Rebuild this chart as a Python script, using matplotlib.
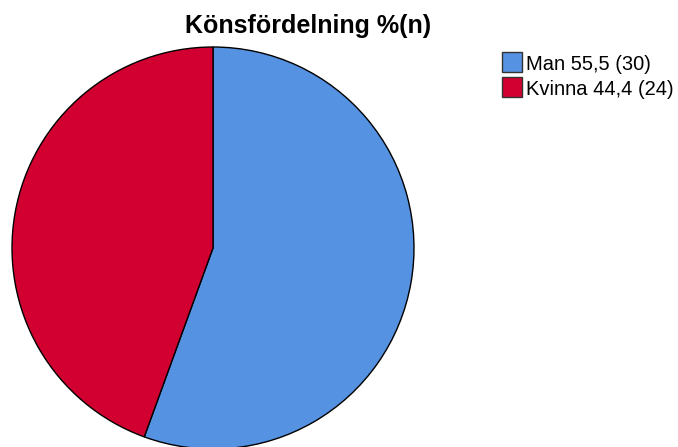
import matplotlib
matplotlib.use("Agg")
import matplotlib.pyplot as plt
from matplotlib.patches import Rectangle

labels = ["Man 55,5 (30)", "Kvinna 44,4 (24)"]
counts = [30, 24]
colors = ["#5592E2", "#D20030"]

W, H = 678, 447
plt.rcParams['font.family'] = ['Liberation Sans', 'DejaVu Sans']
fig = plt.figure(figsize=(W / 100, H / 100), dpi=100)

cx, cy, r = 213, 248, 202
ax = fig.add_axes([(cx - r) / W, (H - cy - r) / H, 2 * r / W, 2 * r / H])
wedges, _ = ax.pie(counts, colors=colors, startangle=90, counterclock=False,
                   radius=1, wedgeprops=dict(edgecolor="black", linewidth=1.0))
ax.set_xlim(-1.005, 1.005)
ax.set_ylim(-1.005, 1.005)
ax.set_aspect("equal")
ax.axis("off")

fig.text(308 / W, 1 - 33 / H, "Könsfördelning %(n)", ha="center", va="baseline",
         fontsize=18, fontweight="bold")

# legend (manual, pixel positions)
sq = 20
tops = [52, 77]
for lab, col, top in zip(labels, colors, tops):
    fig.patches.append(Rectangle((502 / W, 1 - (top + sq) / H), sq / W, sq / H,
                                 transform=fig.transFigure, facecolor=col,
                                 edgecolor="#333333", linewidth=1.0))
    fig.text(526 / W, 1 - (top + 18) / H, lab, ha="left", va="baseline",
             fontsize=14.5)

fig.savefig("out.png", dpi=100)
